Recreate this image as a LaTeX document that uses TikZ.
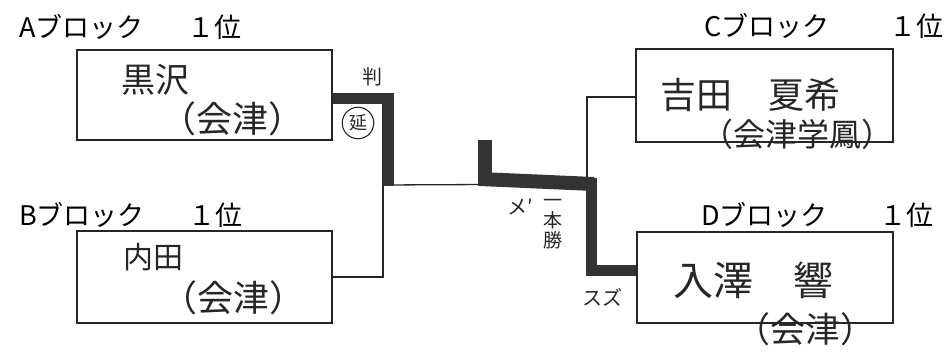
\documentclass[tikz,border=0pt]{standalone}
\usepackage{fontspec}
\setmainfont{Noto Sans CJK JP}
\begin{document}
\begin{tikzpicture}[x=1pt,y=-1pt,
  entrybox/.style={draw=black!85, line width=1.6pt, inner sep=0pt},
  blocklabel/.style={anchor=west, inner sep=0pt, font=\fontsize{27}{29}\selectfont},
  handname/.style={inner sep=0pt, text=black!85},
  note/.style={inner sep=0pt, text=black!85, font=\fontsize{20}{20}\selectfont},
  link/.style={draw=black!85, line width=1.3pt},
  win/.style={draw=black!80, line width=11pt},
  winfat/.style={draw=black!80, line width=14pt}]
\useasboundingbox (0,0) rectangle (944,362);
% block labels
\node[blocklabel] (labA) at (19,27) {Aブロック\hspace{44pt}１位};
\node[blocklabel] (labB) at (19,215) {Bブロック\hspace{44pt}１位};
\node[blocklabel] (labC) at (704,26) {Cブロック\hspace{60pt}１位};
\node[blocklabel] (labD) at (701,215) {Dブロック\hspace{52pt}１位};
% boxes
\node[entrybox, minimum width=255pt, minimum height=90pt] (A) at (204.5,95) {};
\node[entrybox, minimum width=255pt, minimum height=92pt] (B) at (204.5,277) {};
\node[entrybox, minimum width=257pt, minimum height=93pt] (C) at (764.5,95.5) {};
\node[entrybox, minimum width=256pt, minimum height=91pt] (D) at (765,277.5) {};
% names
\node[handname, font=\fontsize{34}{34}\selectfont] (nA) at (155,80) {黒沢};
\node[handname, font=\fontsize{36}{36}\selectfont] (oA) at (232,119) {（会津）};
\node[handname, font=\fontsize{30}{30}\selectfont] (nB) at (153,257) {内田};
\node[handname, font=\fontsize{36}{36}\selectfont] (oB) at (233,298) {（会津）};
\node[handname, font=\fontsize{36}{36}\selectfont] (nC) at (750,95) {吉田　夏希};
\node[handname, font=\fontsize{32}{32}\selectfont] (oC) at (797,134) {（会津学鳳）};
\node[handname, font=\fontsize{40}{40}\selectfont] (nD) at (753,280) {入澤　響};
\node[handname, font=\fontsize{35}{35}\selectfont] (oD) at (805,329) {（会津）};
% junctions
\coordinate (jL) at (383,185);
\coordinate (jR) at (587,184);
\coordinate (champ) at (485,140);
\coordinate (champB) at (485,186);
% thin bracket lines
\draw[link] ([yshift=-3pt]A.east) -| (jL) |- (B.east);
\draw[link] ([yshift=-1.5pt]C.west) -| (jR);
\draw[link] (jL) -- (jR);
% winner lines
\draw[win] ([yshift=-3pt]A.east) -| (388,186);
\draw[winfat] (champ) -- (champB);
\draw[winfat] (480,179) -- (594,184);
\draw[win] (591,178) |- ([yshift=7pt]D.west);
% notes
\node[note] (hantei) at (372,77) {判};
\node[note, draw=black!85, line width=1.1pt, circle, inner sep=2.5pt, font=\fontsize{18}{18}\selectfont] (encho) at (358,123) {延};
\node[note] (men) at (520,207) {メ′};
\node[note, align=center, font=\fontsize{19}{20}\selectfont] (ippon) at (553,224) {一\\本\\勝};
\node[note] (suzu) at (602,297) {スズ};
\end{tikzpicture}
\end{document}
